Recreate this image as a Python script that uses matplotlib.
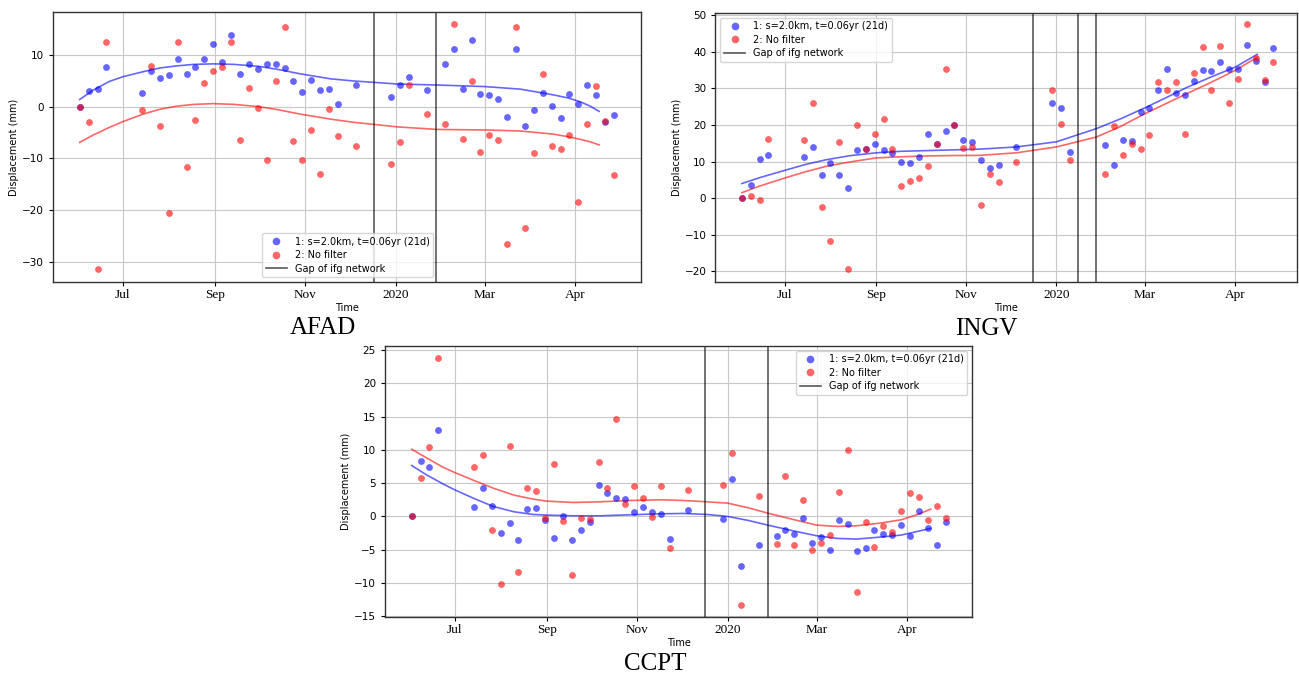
import numpy as np
import matplotlib
matplotlib.use('Agg')
import matplotlib.pyplot as plt
from matplotlib.lines import Line2D

# x axis: days since 2019-07-01, epochs every 6 days from day -29
FIRST_DAY = -29
REPEAT = 6
TICK_DAYS = [0, 62, 123, 184, 244, 305]
TICK_LABELS = ['Jul', 'Sep', 'Nov', '2020', 'Mar', 'Apr']

LBL_FILT = '1: s=2.0km, t=0.06yr (21d)'
LBL_RAW = '2: No filter'
LBL_GAP = 'Gap of ifg network'

# ---------------- AFAD ----------------
afad_epochs = [0, 1, 2, 3] + list(range(7, 30)) + [31, 35, 36, 37, 39] + list(range(41, 61))
afad_filt = [0, 3.1, 3.5, 7.6, 2.6, 7.0, 5.5, 6.1, 9.2, 6.3, 7.7, 9.2, 12.1, 8.7, 13.9,
             6.4, 8.2, 7.4, 8.2, 8.3, 7.5, 5.0, 2.8, 5.2, 3.3, 3.4, 0.6, 4.3, 1.8, 4.3,
             5.7, 3.2, 8.3, 11.2, 3.5, 13.0, 2.5, 2.2, 1.4, -2.0, 11.1, -3.8, -0.6, 2.7,
             0.1, -2.1, 2.5, 0.6, 4.3, 2.2, -2.9, -1.7]
afad_raw = [0, -3.0, -31.5, 12.5, -0.6, 7.9, -3.7, -20.5, 12.5, -11.6, -2.5, 4.5, 7.0,
            7.6, 12.6, -6.5, 3.7, -0.3, -10.4, 4.9, 15.4, -6.7, -10.4, -4.6, -13.1, -0.4,
            -5.7, -7.7, -11.0, -6.8, 4.3, -1.5, -3.3, 16.1, -6.3, 4.9, -8.7, -5.4, -6.4,
            -26.6, 15.5, -23.4, -9.0, 6.3, -7.7, -8.1, -5.4, -18.5, -3.3, 4.0, -2.7, -13.2]
afad_fit_days = [-29, -20, -9, 0, 14, 25, 36, 48, 61, 75, 92, 105, 119, 140, 155, 185,
                 212, 244, 268, 290, 300, 308, 315, 321]
afad_fit_filt = [1.4, 3.2, 4.9, 5.8, 6.8, 7.5, 7.9, 8.2, 8.3, 8.2, 7.8, 7.2, 6.4, 5.4, 5.0, 4.4,
                 4.2, 3.9, 3.4, 2.3, 1.7, 1.0, 0.1, -0.9]
afad_fit_raw = [-6.9, -5.5, -4.0, -2.9, -1.4, -0.5, 0.1, 0.45, 0.6, 0.45, 0.0, -0.6, -1.4, -2.4,
                -3.0, -3.9, -4.4, -4.5, -4.7, -5.3, -5.8, -6.3, -6.8, -7.4]
afad_gaps = [169, 211]

# ---------------- INGV ----------------
ingv_epochs = [0, 1, 2, 3] + list(range(7, 30)) + [31, 35, 36, 37] + list(range(41, 61))
ingv_filt = [0, 3.7, 10.8, 11.9, 11.2, 14.0, 6.2, 9.5, 6.2, 2.7, 13.3, 13.5, 14.8, 13.1,
             12.4, 10.0, 9.5, 11.3, 17.6, 14.9, 18.3, 20.1, 16.0, 15.4, 10.4, 8.3, 9.1,
             14.0, 26.0, 24.6, 12.7, 14.6, 9.1, 16.0, 15.6, 23.5, 24.6, 29.7, 35.4, 28.8,
             28.1, 32.0, 34.9, 34.7, 37.3, 35.2, 35.4, 42.0, 37.5, 31.7, 41.1]
ingv_raw = [0, 0.6, -0.6, 16.2, 16.0, 26.1, -2.3, -11.6, 15.4, -19.5, 20.0, 13.5, 17.5,
            21.6, 13.5, 3.3, 4.6, 5.5, 8.7, 14.9, 35.2, 20.1, 13.8, 14.0, -1.8, 6.5, 4.5,
            10.0, 29.6, 20.4, 10.5, 6.5, 19.8, 11.7, 14.7, 13.5, 17.3, 31.7, 29.7, 31.7,
            17.6, 34.3, 41.3, 29.5, 41.5, 25.9, 32.6, 47.5, 38.2, 32.3, 37.3]
ingv_fit_days = [-29, -17, 0, 14, 28, 44, 62, 78, 96, 114, 132, 157, 184, 211, 227, 244,
                 258, 272, 288, 305, 320]
ingv_fit_filt = [4.0, 5.6, 7.6, 9.2, 10.5, 11.6, 12.4, 12.8, 13.0, 13.2, 13.4, 14.0, 15.4,
                 19.0, 21.6, 24.7, 27.4, 30.2, 33.0, 35.8, 39.3]
ingv_fit_raw = [1.5, 3.3, 5.5, 7.2, 8.7, 9.9, 11.0, 11.3, 11.55, 11.65, 11.7, 12.4, 14.0,
                16.7, 19.5, 23.1, 25.8, 28.5, 31.5, 34.9, 38.5]
ingv_gaps = [168.5, 198.5, 210.6]

# ---------------- CCPT ----------------
ccpt_epochs = [0, 1, 2, 3] + list(range(7, 30)) + [31, 35, 36, 37, 39] + list(range(41, 61))
ccpt_filt = [0, 8.4, 7.5, 13.0, 1.4, 4.3, 1.6, -2.5, -1.0, -3.6, 1.1, 1.3, -0.5, -3.2,
             0.0, -3.6, -2.0, -0.8, 4.7, 3.5, 2.8, 2.6, 0.6, 1.4, 0.7, 0.4, -3.4, 1.0,
             -0.4, 5.6, -7.4, -4.3, -3.0, -2.1, -2.6, -0.2, -4.0, -3.1, -5.1, -0.5, -1.1,
             -5.2, -4.8, -2.0, -2.6, -2.8, -1.3, -2.9, 0.8, -1.8, -4.3, -0.9]
ccpt_raw = [0, 5.8, 10.4, 23.8, 7.5, 9.3, -2.1, -10.2, 10.6, -8.4, 4.2, 3.8, -0.3, 7.9,
            -0.7, -8.8, -0.3, -0.4, 8.2, 4.3, 14.6, 1.8, 4.6, 2.8, -0.1, 4.5, -4.8, 4.0,
            4.7, 9.5, -13.3, 3.0, -4.1, 6.1, -4.3, 2.4, -5.0, -4.0, -2.8, 3.7, 10.0,
            -11.3, -0.9, -4.6, -1.4, -2.3, 0.8, 3.5, 2.9, -0.6, 1.6, -0.3]
ccpt_fit_days = [-29, -19, -8, 0, 13, 26, 40, 53, 62, 80, 98, 118, 139, 154, 170, 184,
                 198, 211, 229, 244, 258, 271, 287, 301, 311, 321]
ccpt_fit_filt = [7.65, 6.25, 4.9, 4.0, 2.7, 1.5, 0.7, 0.3, 0.2, 0.1, 0.1, 0.25, 0.4, 0.45,
                 0.3, 0.0, -0.6, -1.3, -2.2, -2.9, -3.3, -3.4, -3.1, -2.8, -2.3, -1.8]
ccpt_fit_raw = [10.1, 8.8, 7.4, 6.6, 5.4, 4.25, 3.2, 2.6, 2.3, 2.1, 2.2, 2.4, 2.5, 2.4,
                2.2, 2.0, 1.3, 0.5, -0.5, -1.3, -1.5, -1.4, -1.0, -0.5, 0.2, 1.1]
ccpt_gaps = [169, 211]

W, H = 1299, 675
fig = plt.figure(figsize=(W / 100, H / 100), dpi=100)


def px_axes(left, top, right, bottom):
    return fig.add_axes([left / W, 1 - bottom / H, (right - left) / W, (bottom - top) / H])


def panel(ax, epochs, filt, raw, fit_days, fit_filt, fit_raw, gaps, ylim, xlim, legend_kw):
    days = FIRST_DAY + REPEAT * np.array(epochs)
    ax.grid(True, color='#c8c8c8', lw=0.8, zorder=0)
    ax.set_axisbelow(True)
    ax.scatter(days, filt, s=24, c='b', alpha=0.6, lw=0, zorder=3)
    ax.scatter(days, raw, s=24, c='r', alpha=0.6, lw=0, zorder=3)
    ax.plot(fit_days, fit_filt, color='b', alpha=0.6, lw=1.2, zorder=2)
    ax.plot(fit_days, fit_raw, color='r', alpha=0.6, lw=1.2, zorder=2)
    for g in gaps:
        ax.axvline(g, color='k', alpha=0.65, lw=1.2, zorder=2)
    ax.set_xlim(*xlim)
    ax.set_ylim(*ylim)
    ax.set_xticks(TICK_DAYS)
    ax.set_xticklabels(TICK_LABELS, family='Liberation Serif', fontsize=9.5)
    ax.tick_params(axis='y', labelsize=7.5, length=3)
    ax.tick_params(axis='x', length=3, pad=2)
    ax.set_xlabel('Time', fontsize=7, labelpad=1)
    ax.set_ylabel('Displacement (mm)', fontsize=7, labelpad=2)
    for sp in ax.spines.values():
        sp.set_color('#333333')
        sp.set_linewidth(1.0)
    handles = [
        Line2D([], [], ls='', marker='o', ms=5.5, mfc='b', mec='none', alpha=0.6, label=LBL_FILT),
        Line2D([], [], ls='', marker='o', ms=5.5, mfc='r', mec='none', alpha=0.6, label=LBL_RAW),
        Line2D([], [], color='k', alpha=0.65, lw=1.2, label=LBL_GAP),
    ]
    ax.legend(handles=handles, fontsize=7, handlelength=2.2, borderpad=0.4,
              labelspacing=0.35, **legend_kw)


ax1 = px_axes(53, 11.7, 640.7, 282.3)
panel(ax1, afad_epochs, afad_filt, afad_raw, afad_fit_days, afad_fit_filt, afad_fit_raw,
      afad_gaps, (-34.0, 18.4), (-47, 349),
      dict(loc='lower left', bbox_to_anchor=(0.355, 0.018), borderaxespad=0))

ax2 = px_axes(715.3, 12.7, 1297, 282.3)
panel(ax2, ingv_epochs, ingv_filt, ingv_raw, ingv_fit_days, ingv_fit_filt, ingv_fit_raw,
      ingv_gaps, (-23.0, 50.7), (-47, 347),
      dict(loc='upper left'))

ax3 = px_axes(385, 345.7, 972.3, 617.3)
panel(ax3, ccpt_epochs, ccpt_filt, ccpt_raw, ccpt_fit_days, ccpt_fit_filt, ccpt_fit_raw,
      ccpt_gaps, (-15.15, 25.65), (-47, 349),
      dict(loc='upper right'))

for name, x, y in [('AFAD', 323, 328), ('INGV', 986, 329), ('CCPT', 655, 664)]:
    fig.text(x / W, 1 - y / H, name, ha='center', va='center',
             family='Liberation Serif', fontsize=18)

fig.savefig('out.png', dpi=100)
